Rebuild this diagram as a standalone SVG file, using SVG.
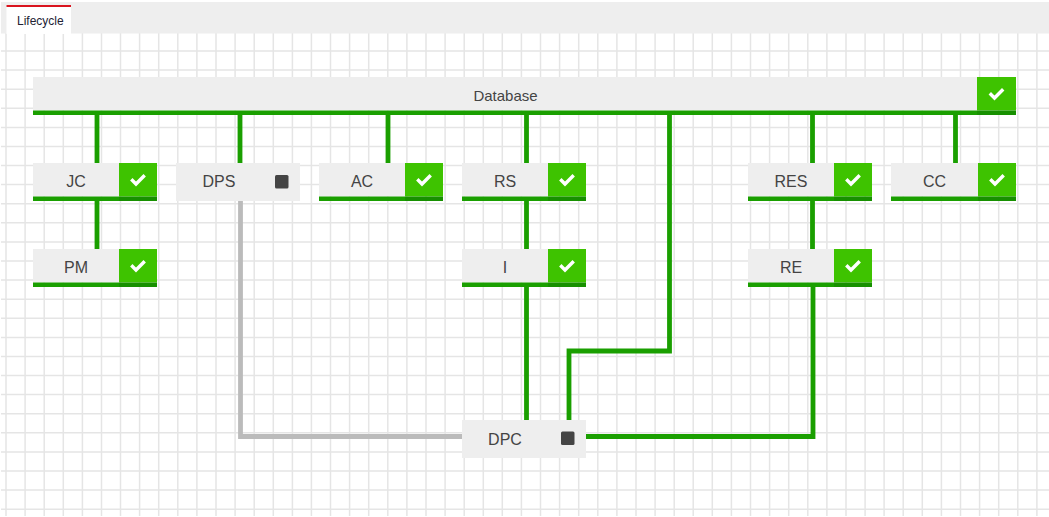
<svg xmlns="http://www.w3.org/2000/svg" width="1049" height="517" viewBox="0 0 1049 517">
<style>
.grid{fill:none;stroke:#e5e5e5;stroke-width:1.5}
.bg{fill:#eee}
.ok{fill:#3ec300}
.bar{fill:#1a9f00}
.barD{fill:#179000}
.lbl{font-family:"Liberation Sans",Arial,sans-serif;font-size:16px;fill:#444;text-anchor:middle}
.chk{fill:none;stroke:#fff;stroke-width:3.4;stroke-linecap:square;stroke-linejoin:miter}
.stop{fill:#444;rx:1.5px}
.g{fill:none;stroke:#1a9f00;stroke-width:4.8}
.s{fill:none;stroke:#bbb;stroke-width:4.8}
</style>
<defs>
<symbol id="check" overflow="visible"><path class="chk" d="M-5.5,0.5 L-2,4 L5.5,-3.5"/></symbol>
</defs>
<rect width="1049" height="517" fill="#fff"/>
<g id="grid">
<path class="grid" d="M6,33V516M25.100,33V516M44.200,33V516M63.300,33V516M82.400,33V516M101.500,33V516M120.500,33V516M139.600,33V516M158.700,33V516M177.800,33V516M196.900,33V516M216,33V516M235.100,33V516M254.200,33V516M273.300,33V516M292.400,33V516M311.400,33V516M330.500,33V516M349.600,33V516M368.700,33V516M387.800,33V516M406.900,33V516M426,33V516M445.100,33V516M464.200,33V516M483.300,33V516M502.300,33V516M521.400,33V516M540.500,33V516M559.600,33V516M578.700,33V516M597.800,33V516M616.900,33V516M636,33V516M655.100,33V516M674.200,33V516M693.200,33V516M712.300,33V516M731.400,33V516M750.500,33V516M769.600,33V516M788.700,33V516M807.800,33V516M826.900,33V516M846,33V516M865.100,33V516M884.100,33V516M903.200,33V516M922.300,33V516M941.400,33V516M960.500,33V516M979.600,33V516M998.700,33V516M1017.800,33V516M1036.900,33V516"/>
<path class="grid" d="M1,51H1049M1,70.100H1049M1,89.200H1049M1,108.300H1049M1,127.400H1049M1,146.500H1049M1,165.500H1049M1,184.600H1049M1,203.700H1049M1,222.800H1049M1,241.900H1049M1,261H1049M1,280.100H1049M1,299.200H1049M1,318.300H1049M1,337.400H1049M1,356.400H1049M1,375.500H1049M1,394.600H1049M1,413.700H1049M1,432.800H1049M1,451.900H1049M1,471H1049M1,490.100H1049M1,509.200H1049"/>
</g>
<g id="tabs">
<rect x="1" y="2" width="1048" height="31.500" fill="#eee"/>
<rect x="6.500" y="5" width="64.500" height="29" fill="#fff"/>
<rect x="6.500" y="5" width="64.500" height="2" fill="#d9141e"/>
<text x="17" y="25" font-family="'Liberation Sans',Arial,sans-serif" font-size="12px" fill="#223">Lifecycle</text>
</g>
<g id="connectors">
<path class="g" d="M97,113V163M240,113V163M388,113V163M526.500,113V163M812.500,113V163M955.500,113V163M97,199V249M526.500,199V249M812.500,199V249M526.500,285V420"/>
<path class="g" d="M669.500,113V351H569V420"/>
<path class="g" d="M586,436.500H813V285"/>
<path class="s" d="M240.500,201V436.500H462"/>
</g>
<g id="node-database">
<rect class="bg" x="33" y="77" width="944" height="33.500"/>
<rect class="ok" x="977" y="77" width="39" height="33.500"/>
<rect class="bar" x="33" y="110.500" width="944" height="4.500"/>
<rect class="barD" x="977" y="110.500" width="39" height="4.500"/>
<text class="lbl" x="505.500" y="100.500" style="font-size:15px">Database</text>
<use href="#check" x="996.500" y="94"/>
</g>
<g id="node-jc">
<rect class="bg" x="33" y="163" width="86" height="33.500"/><rect class="ok" x="119" y="163" width="38" height="33.500"/>
<rect class="bar" x="33" y="196.500" width="86" height="4.500"/><rect class="barD" x="119" y="196.500" width="38" height="4.500"/>
<text class="lbl" x="76" y="186.500">JC</text><use href="#check" x="138" y="180"/>
</g>
<g id="node-pm">
<rect class="bg" x="33" y="249" width="86" height="33.500"/><rect class="ok" x="119" y="249" width="38" height="33.500"/>
<rect class="bar" x="33" y="282.500" width="86" height="4.500"/><rect class="barD" x="119" y="282.500" width="38" height="4.500"/>
<text class="lbl" x="76" y="272.500">PM</text><use href="#check" x="138" y="266"/>
</g>
<g id="node-dps">
<rect class="bg" x="176" y="163" width="124" height="38"/>
<text class="lbl" x="219" y="186.500">DPS</text><rect class="stop" x="275" y="175" width="13.500" height="13.500"/>
</g>
<g id="node-ac">
<rect class="bg" x="319" y="163" width="86" height="33.500"/><rect class="ok" x="405" y="163" width="38" height="33.500"/>
<rect class="bar" x="319" y="196.500" width="86" height="4.500"/><rect class="barD" x="405" y="196.500" width="38" height="4.500"/>
<text class="lbl" x="362" y="186.500">AC</text><use href="#check" x="424" y="180"/>
</g>
<g id="node-rs">
<rect class="bg" x="462" y="163" width="86" height="33.500"/><rect class="ok" x="548" y="163" width="38" height="33.500"/>
<rect class="bar" x="462" y="196.500" width="86" height="4.500"/><rect class="barD" x="548" y="196.500" width="38" height="4.500"/>
<text class="lbl" x="505" y="186.500">RS</text><use href="#check" x="567" y="180"/>
</g>
<g id="node-i">
<rect class="bg" x="462" y="249" width="86" height="33.500"/><rect class="ok" x="548" y="249" width="38" height="33.500"/>
<rect class="bar" x="462" y="282.500" width="86" height="4.500"/><rect class="barD" x="548" y="282.500" width="38" height="4.500"/>
<text class="lbl" x="505" y="272.500">I</text><use href="#check" x="567" y="266"/>
</g>
<g id="node-res">
<rect class="bg" x="748" y="163" width="86" height="33.500"/><rect class="ok" x="834" y="163" width="38" height="33.500"/>
<rect class="bar" x="748" y="196.500" width="86" height="4.500"/><rect class="barD" x="834" y="196.500" width="38" height="4.500"/>
<text class="lbl" x="791" y="186.500">RES</text><use href="#check" x="853" y="180"/>
</g>
<g id="node-re">
<rect class="bg" x="748" y="249" width="86" height="33.500"/><rect class="ok" x="834" y="249" width="38" height="33.500"/>
<rect class="bar" x="748" y="282.500" width="86" height="4.500"/><rect class="barD" x="834" y="282.500" width="38" height="4.500"/>
<text class="lbl" x="791" y="272.500">RE</text><use href="#check" x="853" y="266"/>
</g>
<g id="node-cc">
<rect class="bg" x="891" y="163" width="87" height="33.500"/><rect class="ok" x="978" y="163" width="38" height="33.500"/>
<rect class="bar" x="891" y="196.500" width="87" height="4.500"/><rect class="barD" x="978" y="196.500" width="38" height="4.500"/>
<text class="lbl" x="934.500" y="186.500">CC</text><use href="#check" x="997" y="180"/>
</g>
<g id="node-dpc">
<rect class="bg" x="462" y="420" width="124" height="38"/>
<text class="lbl" x="505" y="444.500">DPC</text><rect class="stop" x="561" y="431.500" width="13.500" height="13.500"/>
</g>
</svg>
